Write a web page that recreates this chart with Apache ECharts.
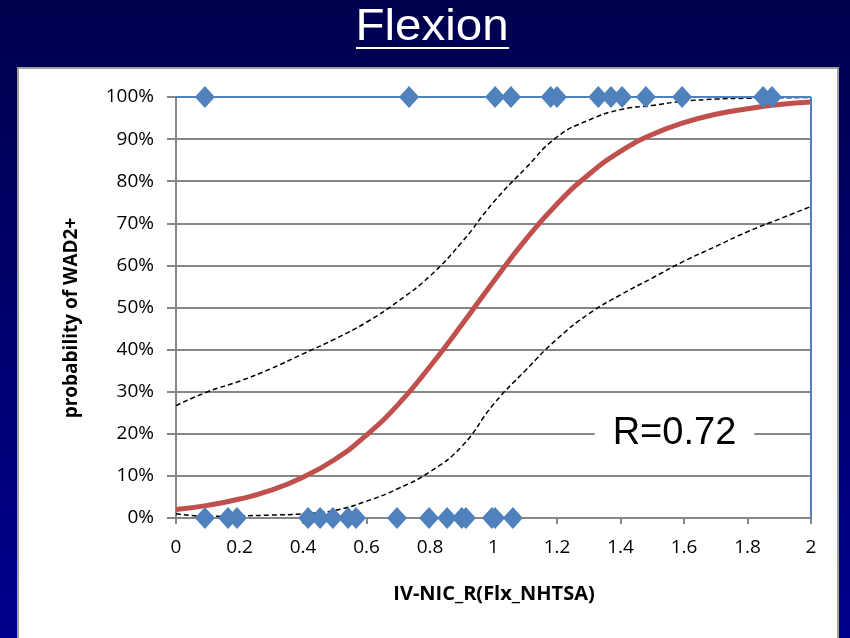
<!DOCTYPE html>
<html><head><meta charset="utf-8">
<script src="https://cdn.jsdelivr.net/npm/echarts@6/dist/echarts.min.js"></script>
<style>html,body{margin:0;padding:0;}#c{width:850px;height:638px;}</style>
</head><body><div id="c"></div>
<script>
const titleText = 'Flexion';
const xTitle = 'IV-NIC_R(Flx_NHTSA)';
const yTitle = 'probability of WAD2+';
const rLabel = 'R=0.72';
// observed cases with WAD2+ (y=1)
const xInjured = [0.091, 0.734, 1.005, 1.055, 1.18, 1.20, 1.33, 1.37, 1.405, 1.48, 1.594, 1.849, 1.877];
// observed cases without (y=0)
const xUninjured = [0.091, 0.164, 0.192, 0.416, 0.454, 0.494, 0.542, 0.567, 0.696, 0.797, 0.854, 0.90, 0.913, 0.995, 1.005, 1.061];
// curve sample positions
const curveX = [0,0.1,0.2,0.3,0.4,0.5,0.6,0.7,0.8,0.9,1.0,1.1,1.2,1.3,1.4,1.5,1.6,1.7,1.8,1.9,2.0];
const fitP   = [0.020,0.030,0.045,0.066,0.097,0.139,0.197,0.270,0.360,0.459,0.562,0.660,0.746,0.816,0.871,0.911,0.939,0.959,0.972,0.982,0.988];
const upperP = [0.267,0.300,0.325,0.355,0.390,0.425,0.465,0.515,0.575,0.655,0.750,0.830,0.905,0.945,0.970,0.980,0.990,0.995,0.997,0.998,0.999];
const lowerP = [0.010,0.004,0.005,0.007,0.010,0.018,0.040,0.070,0.110,0.170,0.270,0.350,0.425,0.485,0.530,0.570,0.610,0.645,0.680,0.710,0.740];
const xTicks = ['0','0.2','0.4','0.6','0.8','1','1.2','1.4','1.6','1.8','2'];
const rLabelPos = [1.57, 0.2];

const zip = (xs, ys) => xs.map((x, i) => [x, ys[i]]);
const chart = echarts.init(document.getElementById('c'));
const lblFont = '"Open Sans", sans-serif';
chart.setOption({
  animation: false,
  backgroundColor: {type:'linear', x:0, y:0, x2:0, y2:1, colorStops:[{offset:0,color:'#00004e'},{offset:1,color:'#00008e'}]},
  graphic: [
    {type:'rect', z:-10, shape:{x:18, y:68, width:820, height:580}, style:{fill:'#ffffff', stroke:'#a0a0a0', lineWidth:2}},
    {type:'text', x:432, y:6, scaleX:1.08, style:{text:titleText, fill:'#ffffff', align:'center', font:'44px "Liberation Sans", Arial, sans-serif'}},
    {type:'rect', shape:{x:356, y:47, width:153, height:2}, style:{fill:'#ffffff'}},
    {type:'text', x:494, y:594, style:{text:xTitle, fill:'#000', align:'center', verticalAlign:'middle', font:'bold 20px "Open Sans", sans-serif'}},
    {type:'text', x:72, y:318, rotation:Math.PI/2, style:{text:yTitle, fill:'#000', align:'center', verticalAlign:'middle', font:'bold 19px "Open Sans", sans-serif'}}
  ],
  grid: {left:176, top:97, right:39, bottom:120},
  xAxis: {
    type:'value', min:0, max:2, interval:0.2,
    axisLine:{lineStyle:{color:'#868686', width:2}},
    axisTick:{show:true, length:6, lineStyle:{color:'#868686', width:2}},
    axisLabel:{margin:20, fontFamily:lblFont, fontSize:19, color:'#000',
      formatter:(v)=>{const i=Math.round(v/0.2); return xTicks[i];}},
    splitLine:{show:false}
  },
  yAxis: {
    type:'value', min:0, max:1, interval:0.1,
    axisLine:{show:true, lineStyle:{color:'#868686', width:2}},
    axisTick:{show:true, length:9, lineStyle:{color:'#868686', width:2}},
    axisLabel:{margin:22, fontFamily:lblFont, fontSize:19, color:'#000', formatter:(v)=>Math.round(v*100)+'%'},
    splitLine:{show:true, lineStyle:{color:'#868686', width:2}}
  },
  series: [
    {type:'line', data:zip(curveX, upperP), smooth:true, symbol:'none', lineStyle:{color:'#000', width:1.5, type:[5,3]}, z:3},
    {type:'line', data:zip(curveX, lowerP), smooth:true, symbol:'none', lineStyle:{color:'#000', width:1.5, type:[5,3]}, z:3},
    {type:'line', data:zip(curveX, fitP), smooth:true, symbol:'none', lineStyle:{color:'#C0504D', width:5}, z:4,
     markLine:{silent:true, symbol:'none', label:{show:false}, lineStyle:{color:'#4F81BD', width:2, type:'solid'},
       data:[{yAxis:1},{xAxis:2}]}},
    {type:'scatter', data:xInjured.map(x=>[x,1]), symbol:'diamond', symbolSize:[20,22], itemStyle:{color:'#4F81BD', opacity:1}, z:5},
    {type:'scatter', data:xUninjured.map(x=>[x,0]), symbol:'diamond', symbolSize:[20,22], itemStyle:{color:'#4F81BD', opacity:1}, z:5},
    {type:'scatter', data:[rLabelPos], symbol:'circle', symbolSize:2, itemStyle:{color:'rgba(255,255,255,0)'}, silent:true, z:6,
     label:{show:true, position:'inside', formatter:rLabel, fontFamily:'"Liberation Sans", Arial, sans-serif', fontSize:38, color:'#000000',
       textBorderWidth:0, textBorderColor:'transparent', opacity:1, backgroundColor:'#ffffff', padding:[2,18]}}
  ]
});
</script></body></html>
